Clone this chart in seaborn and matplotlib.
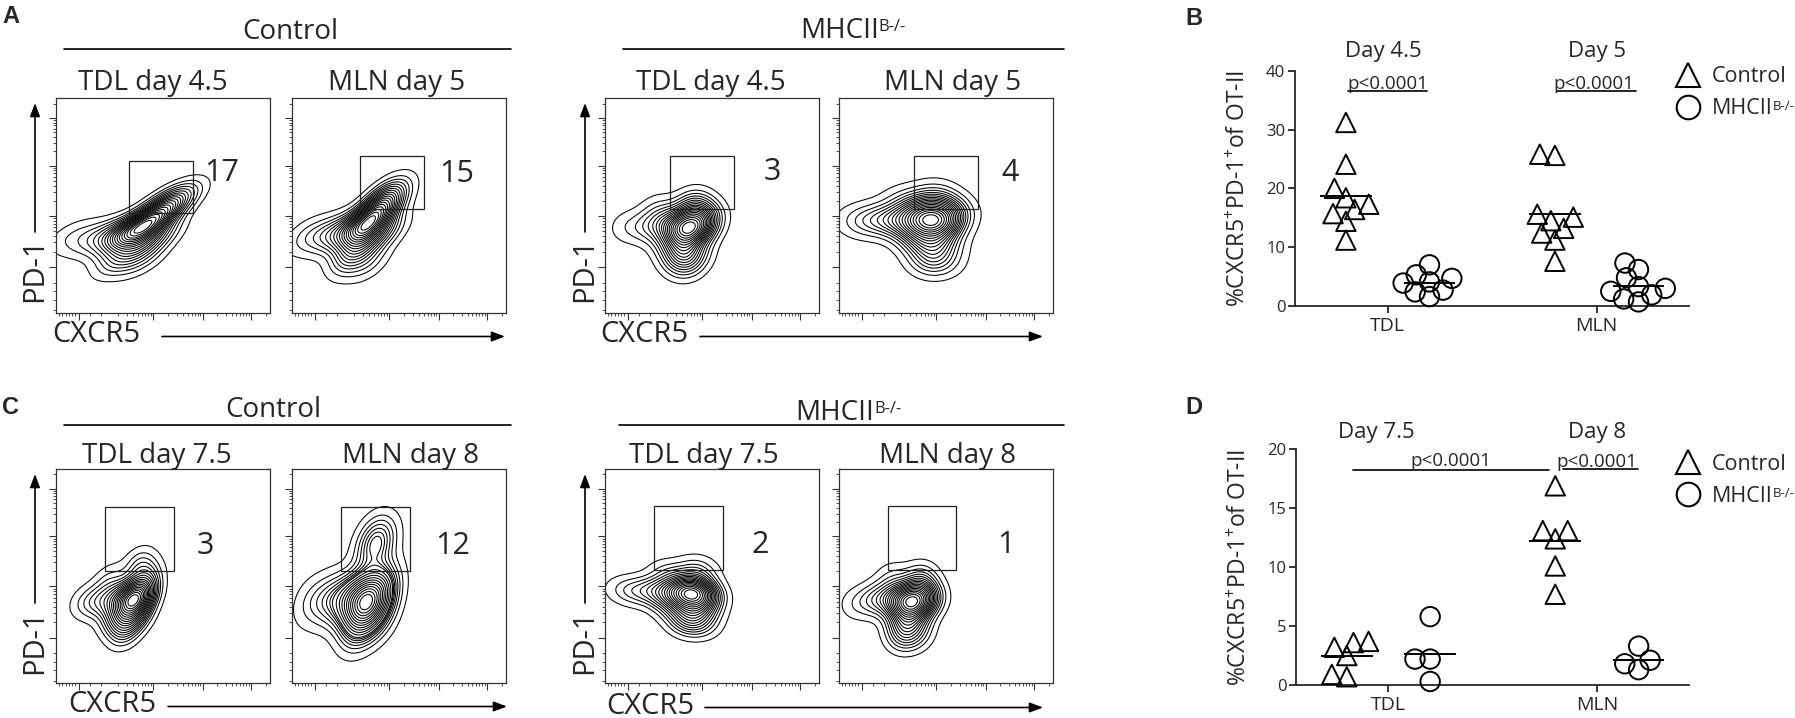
import numpy as np
import pandas as pd
import matplotlib
matplotlib.use("Agg")
import matplotlib.pyplot as plt
from matplotlib.patches import Rectangle
from matplotlib.lines import Line2D
import seaborn as sns

# ------------------------------------------------------------------ data
TISSUES = ["TDL", "MLN"]
GENOTYPES = ["Control", "MHCII"]

# panel B: %CXCR5+PD-1+ of OT-II (day 4.5 TDL / day 5 MLN)
B_TDL_CTRL = [31.2, 24.1, 20.0, 18.4, 17.3, 16.4, 15.7, 14.4, 11.2]
B_TDL_KO = [7.0, 5.3, 4.7, 4.1, 3.9, 2.7, 2.4, 1.6]
B_MLN_CTRL = [25.6, 25.8, 15.6, 15.1, 14.5, 13.2, 12.4, 11.2, 7.6]
B_MLN_KO = [7.3, 6.2, 4.8, 3.3, 3.0, 2.5, 1.9, 1.2, 0.7]

# panel D: %CXCR5+PD-1+ of OT-II (day 7.5 TDL / day 8 MLN)
D_TDL_CTRL = [2.5, 3.7, 3.2, 3.6, 0.7, 0.9]
D_TDL_KO = [5.8, 2.2, 2.2, 0.3]
D_MLN_CTRL = [16.9, 13.1, 13.1, 12.4, 10.1, 7.7]
D_MLN_KO = [3.3, 2.1, 1.8, 1.3]

B_YTICKS = [0, 10, 20, 30, 40]
D_YTICKS = [0, 5, 10, 15, 20]
B_DAYS = ["Day 4.5", "Day 5"]
D_DAYS = ["Day 7.5", "Day 8"]
P_LABEL = "p<0.0001"

# flow panels A / C
A_TITLES = ["TDL day 4.5", "MLN day 5", "TDL day 4.5", "MLN day 5"]
C_TITLES = ["TDL day 7.5", "MLN day 8", "TDL day 7.5", "MLN day 8"]
A_FREQ = [17, 15, 3, 4]
C_FREQ = [3, 12, 2, 1]
# gates (CXCR5 lo, CXCR5 hi, PD-1 lo, PD-1 hi) on relative display scale
A_GATES = [(0.341, 0.640, 0.465, 0.709), (0.316, 0.615, 0.482, 0.731),
           (0.304, 0.601, 0.484, 0.731), (0.350, 0.650, 0.482, 0.731)]
C_GATES = [(0.227, 0.550, 0.524, 0.823), (0.229, 0.550, 0.524, 0.823),
           (0.229, 0.550, 0.529, 0.829), (0.227, 0.547, 0.529, 0.829)]

# density anchors: (CXCR5, PD-1, weight)
A1_CELLS = [(0.40, 0.39, 3.0), (0.46, 0.44, 2.0), (0.52, 0.50, 1.5), (0.57, 0.54, 0.7),
            (0.33, 0.37, 1.5), (0.25, 0.36, 0.9), (0.15, 0.35, 0.5), (0.06, 0.36, 0.3),
            (0.38, 0.30, 1.0), (0.30, 0.30, 0.6), (0.47, 0.35, 0.8), (0.30, 0.24, 0.5),
            (0.40, 0.24, 0.45)]
A2_CELLS = [(0.35, 0.40, 3.0), (0.39, 0.46, 2.0), (0.43, 0.51, 1.5), (0.46, 0.56, 0.7),
            (0.28, 0.38, 1.5), (0.20, 0.37, 0.9), (0.12, 0.36, 0.5), (0.05, 0.36, 0.3),
            (0.33, 0.31, 1.0), (0.27, 0.29, 0.6), (0.44, 0.38, 0.8), (0.28, 0.24, 0.5),
            (0.36, 0.23, 0.45)]
A3_CELLS = [(0.38, 0.39, 3.0), (0.44, 0.40, 1.5), (0.47, 0.45, 1.0), (0.30, 0.41, 1.2),
            (0.20, 0.40, 0.6), (0.10, 0.40, 0.3), (0.36, 0.30, 1.0), (0.42, 0.28, 0.6),
            (0.30, 0.33, 0.6), (0.40, 0.47, 0.8), (0.38, 0.23, 0.7), (0.33, 0.25, 0.4),
            (0.42, 0.51, 0.5), (0.25, 0.48, 0.35)]
A4_CELLS = [(0.43, 0.43, 3.0), (0.48, 0.43, 1.5), (0.52, 0.48, 1.0), (0.35, 0.43, 1.5),
            (0.25, 0.43, 1.0), (0.15, 0.43, 0.6), (0.07, 0.42, 0.3), (0.42, 0.33, 1.0),
            (0.48, 0.33, 0.6), (0.40, 0.50, 0.8), (0.35, 0.35, 0.6), (0.42, 0.24, 0.7),
            (0.48, 0.25, 0.45), (0.46, 0.55, 0.45), (0.30, 0.52, 0.35)]
C1_CELLS = [(0.36, 0.39, 3.0), (0.40, 0.42, 1.5), (0.42, 0.50, 0.6), (0.29, 0.39, 1.2),
            (0.20, 0.38, 0.6), (0.13, 0.38, 0.3), (0.33, 0.31, 1.0), (0.38, 0.32, 0.7),
            (0.27, 0.30, 0.5), (0.32, 0.24, 0.6), (0.39, 0.56, 0.45), (0.25, 0.48, 0.35)]
C2_CELLS = [(0.34, 0.39, 3.0), (0.40, 0.40, 1.5), (0.27, 0.39, 1.5), (0.18, 0.39, 0.8),
            (0.09, 0.38, 0.4), (0.33, 0.30, 1.0), (0.40, 0.31, 0.6), (0.42, 0.47, 0.6),
            (0.39, 0.65, 1.2), (0.40, 0.67, 0.3), (0.30, 0.25, 0.5)]
C3_CELLS = [(0.40, 0.42, 3.0), (0.45, 0.42, 1.5), (0.33, 0.42, 1.2), (0.24, 0.43, 0.8),
            (0.14, 0.43, 0.5), (0.07, 0.43, 0.2), (0.40, 0.34, 1.0), (0.45, 0.35, 0.7),
            (0.42, 0.49, 0.6), (0.30, 0.36, 0.5), (0.38, 0.28, 0.7), (0.44, 0.28, 0.45),
            (0.30, 0.51, 0.45), (0.44, 0.54, 0.35)]
C4_CELLS = [(0.33, 0.38, 3.0), (0.38, 0.39, 1.5), (0.26, 0.39, 1.3), (0.17, 0.39, 0.7),
            (0.08, 0.37, 0.3), (0.30, 0.29, 1.0), (0.36, 0.30, 0.6), (0.38, 0.46, 0.6),
            (0.42, 0.40, 0.6), (0.30, 0.22, 0.7), (0.36, 0.23, 0.45), (0.25, 0.49, 0.35),
            (0.38, 0.50, 0.35)]

# ------------------------------------------------------------------ style
sns.set_style("ticks")
plt.rcParams["font.family"] = ["Open Sans", "DejaVu Sans"]
plt.rcParams["mathtext.fontset"] = "custom"
plt.rcParams["mathtext.rm"] = "Open Sans"
plt.rcParams["mathtext.it"] = "Open Sans:italic"
plt.rcParams["mathtext.bf"] = "Open Sans:bold"

W, H = 1795, 718
fig = plt.figure(figsize=(W / 100, H / 100), dpi=100)
fig.patch.set_facecolor("white")


def px_rect(l, t, r, b):
    return [l / W, 1 - b / H, (r - l) / W, (b - t) / H]


# overlay in pixel coordinates for headers / arrows / letters
ov = fig.add_axes([0, 0, 1, 1], zorder=5)
ov.set_xlim(0, W)
ov.set_ylim(H, 0)
ov.set_axis_off()
ov.patch.set_visible(False)

BOX_X = [(56, 270), (292, 506), (605, 819), (839, 1053)]
A_Y = (98.3, 312.7)
C_Y = (469.0, 683.3)
A_NUM = [(0.776, 0.652), (0.771, 0.647), (0.784, 0.658), (0.799, 0.652)]
C_NUM = [(0.700, 0.640), (0.752, 0.640), (0.724, 0.645), (0.780, 0.645)]

Y_MAJ = [0.213, 0.453, 0.686, 0.908]
X_MAJ = [0.107, 0.453, 0.685, 0.911]


def log_minors(majors):
    out = []
    for a, b in zip(majors[:-1], majors[1:]):
        out += [a + (b - a) * np.log10(k) for k in range(2, 10)]
    return out


Y_MIN = [0.013, 0.06, 0.10, 0.14] + log_minors(Y_MAJ) + [0.975]
X_MIN = [0.015, 0.03, 0.045, 0.06, 0.075, 0.09, 0.16, 0.21] + \
        log_minors([0.221, 0.453] + X_MAJ[2:]) + [0.98]


def flow(ax, cells, gate, freq, num_xy):
    df = pd.DataFrame(cells, columns=["CXCR5", "PD1", "w"])
    sns.kdeplot(data=df, x="CXCR5", y="PD1", weights="w", levels=20, thresh=0.03,
                bw_adjust=1.0, gridsize=160, color="black", linewidths=0.75, ax=ax)
    ax.set_xlim(0, 1)
    ax.set_ylim(0, 1)
    ax.add_patch(Rectangle((gate[0], gate[2]), gate[1] - gate[0], gate[3] - gate[2],
                           fill=False, ec="#222222", lw=0.9, zorder=4))
    ax.text(num_xy[0], num_xy[1], str(freq), ha="center", va="center", fontsize=22)
    ax.set_xlabel("")
    ax.set_ylabel("")
    ax.set_xticks(X_MAJ)
    ax.set_xticks(X_MIN, minor=True)
    ax.set_yticks(Y_MAJ)
    ax.set_yticks(Y_MIN, minor=True)
    ax.tick_params(which="both", direction="out", labelleft=False, labelbottom=False,
                   color="#333333")
    ax.tick_params(which="major", length=5, width=0.8)
    ax.tick_params(which="minor", length=2.5, width=0.6)
    for s in ax.spines.values():
        s.set_visible(True)
        s.set_linewidth(0.9)
        s.set_color("#333333")


A_CELLS = [A1_CELLS, A2_CELLS, A3_CELLS, A4_CELLS]
C_CELLS = [C1_CELLS, C2_CELLS, C3_CELLS, C4_CELLS]
for i, (l, r) in enumerate(BOX_X):
    axA = fig.add_axes(px_rect(l, A_Y[0], r, A_Y[1]))
    flow(axA, A_CELLS[i], A_GATES[i], A_FREQ[i], A_NUM[i])
    axC = fig.add_axes(px_rect(l, C_Y[0], r, C_Y[1]))
    flow(axC, C_CELLS[i], C_GATES[i], C_FREQ[i], C_NUM[i])

# titles above flow boxes
A_TX = [153, 397, 711, 953]
C_TX = [157, 411, 704, 948]
for i in range(4):
    ov.text(A_TX[i], 90, A_TITLES[i], ha="center", va="baseline", fontsize=20)
    ov.text(C_TX[i], 462.7, C_TITLES[i], ha="center", va="baseline", fontsize=20)


# group headers
def header_ko(x, y):
    t = ov.text(x, y, "MHCII", ha="left", va="baseline", fontsize=20)
    ov.annotate("B-/-", xy=(1.0, 0.93), xycoords=t, ha="left", va="top", fontsize=12)


ov.text(290, 39.3, "Control", ha="center", va="baseline", fontsize=20)
ov.plot([64, 511], [49, 49], color="black", lw=1.2)
header_ko(800, 38.3)
ov.plot([623, 1064], [49, 49], color="black", lw=1.2)
ov.text(273, 417.3, "Control", ha="center", va="baseline", fontsize=20)
ov.plot([64, 511], [425, 425], color="black", lw=1.2)
header_ko(795, 420)
ov.plot([619, 1064], [425, 425], color="black", lw=1.2)

# axis arrows for flow plots
AP = dict(arrowstyle="-|>,head_length=0.8,head_width=0.3", color="black", lw=1.2,
          shrinkA=0, shrinkB=0)
for x in (35, 585):
    ov.annotate("", xy=(x, 103), xytext=(x, 232), arrowprops=AP)
    ov.text(x, 270, "PD-1", rotation=90, ha="center", va="center", fontsize=21)
    ov.annotate("", xy=(x, 474), xytext=(x, 603), arrowprops=AP)
    ov.text(x, 642, "PD-1", rotation=90, ha="center", va="center", fontsize=21)
for tx, a0, a1, ty in [(52, 162, 505, 335), (600, 700, 1043, 335),
                       (68, 168, 507, 705), (606, 705, 1043, 706)]:
    ov.text(tx, ty, "CXCR5", ha="left", va="center", fontsize=21)
    ov.annotate("", xy=(a1, ty + 1.5), xytext=(a0, ty + 1.5), arrowprops=AP)

# panel letters
for letter, x, y in [("A", 2, 23.3), ("B", 1185, 25), ("C", 2, 414), ("D", 1185, 414)]:
    ov.text(x, y, letter, ha="left", va="baseline", fontsize=17, fontweight="bold",
            family=["Liberation Sans", "DejaVu Sans"])

MARKER = 14.0      # drawn marker size (pt)
SWARM_SIZE = 9.0   # marker size used for seaborn's swarm layout (allows overlap)


# ------------------------------------------------------------------ scatter panels
def scatter_panel(rect, tdl_c, tdl_k, mln_c, mln_k, yticks, days, day_y, plines, ptexts,
                  leg_top):
    ax = fig.add_axes(rect)
    df = pd.DataFrame({
        "tissue": ["TDL"] * (len(tdl_c) + len(tdl_k)) + ["MLN"] * (len(mln_c) + len(mln_k)),
        "genotype": ["Control"] * len(tdl_c) + ["MHCII"] * len(tdl_k)
                    + ["Control"] * len(mln_c) + ["MHCII"] * len(mln_k),
        "value": list(tdl_c) + list(tdl_k) + list(mln_c) + list(mln_k),
    })
    for g, m in zip(GENOTYPES, ["^", "o"]):
        sns.swarmplot(data=df[df.genotype == g], x="tissue", y="value", hue="genotype",
                      hue_order=GENOTYPES, order=TISSUES, dodge=True, marker=m,
                      size=SWARM_SIZE,
                      palette={"Control": "white", "MHCII": "white"}, edgecolor="black",
                      linewidth=1.4, legend=False, ax=ax, warn_thresh=1.0)
    ax.set_xlim(-0.4435, 1.4416)
    ax.set_ylim(yticks[0], yticks[-1])
    ax.set_yticks(yticks)
    means = df.groupby(["tissue", "genotype"])["value"].mean()
    for ti, t in enumerate(TISSUES):
        for gi, g in enumerate(GENOTYPES):
            cx = ti + (-0.2 if gi == 0 else 0.2)
            ax.hlines(means[(t, g)], cx - 0.124, cx + 0.124, color="black", lw=1.4, zorder=5)
    ax.set_xlabel("")
    ax.set_ylabel("%CXCR5$^{+}$PD-1$^{+}$of OT-II", fontsize=16.5)
    ax.yaxis.set_label_coords(-0.112, 0.5)
    sns.despine(ax=ax)
    for s in ("left", "bottom"):
        ax.spines[s].set_linewidth(1.3)
    ax.tick_params(direction="out", length=5, width=1.3, pad=2)
    ax.tick_params(axis="y", labelsize=12)
    ax.tick_params(axis="x", labelsize=14, pad=3)
    for (x, y), txt in zip(day_y, days):
        ax.text(x, y, txt, ha="center", va="baseline", fontsize=16, clip_on=False)
    for (x0, x1, y) in plines:
        ax.plot([x0, x1], [y, y], color="black", lw=1.2, clip_on=False)
    for (x, y) in ptexts:
        ax.text(x, y, P_LABEL, ha="center", va="baseline", fontsize=13.5, clip_on=False)
    handles = [Line2D([], [], marker="^", ls="", mfc="none", mec="black", mew=1.5, ms=17),
               Line2D([], [], marker="o", ls="", mfc="none", mec="black", mew=1.5, ms=17)]
    leg = ax.legend(handles, ["Control", "MHCII"], loc="upper left",
                    bbox_to_anchor=(0.9645, leg_top), frameon=False, fontsize=15.5,
                    handlelength=1.2, handletextpad=0.5, labelspacing=0.5,
                    borderaxespad=0, borderpad=0)
    leg.set_zorder(6)
    lt = leg.get_texts()[1]
    sup = ax.annotate("B-/-", xy=(1.0, 0.93), xycoords=lt, ha="left", va="top",
                      fontsize=9.5, annotation_clip=False)
    sup.set_zorder(10)
    return ax


B_ax = scatter_panel(px_rect(1295, 70.7, 1689, 306), B_TDL_CTRL, B_TDL_KO, B_MLN_CTRL,
                     B_MLN_KO, B_YTICKS, B_DAYS, [(-0.02, 42.3), (1.0, 42.3)],
                     [(-0.19, 0.19, 36.5), (0.81, 1.19, 36.5)],
                     [(0.0, 36.9), (0.987, 36.9)], 1.018)
D_ax = scatter_panel(px_rect(1296, 449.3, 1689, 685), D_TDL_CTRL, D_TDL_KO, D_MLN_CTRL,
                     D_MLN_KO, D_YTICKS, D_DAYS, [(-0.056, 20.97), (1.0, 20.97)],
                     [(-0.17, 0.77, 18.25), (0.839, 1.198, 18.36)],
                     [(0.30, 18.55), (1.0, 18.53)], 0.98)

# run seaborn's swarm layout once with the compact size, then freeze it and
# draw the markers at their real size
fig.canvas.draw()
for ax in (B_ax, D_ax):
    for c in ax.collections:
        if type(c).__name__ == "PathCollection":
            c.__dict__.pop("draw", None)
            c.set_sizes([MARKER ** 2])
            c.set_facecolor("none")
            c.set_clip_on(False)

# keep the blank bottom-left corner of the page clean
fig.add_artist(Rectangle((0, 0), 30 / W, 26 / H, transform=fig.transFigure,
                         facecolor="white", edgecolor="none", zorder=1000))

fig.savefig("out.png", dpi=100, facecolor="white")
